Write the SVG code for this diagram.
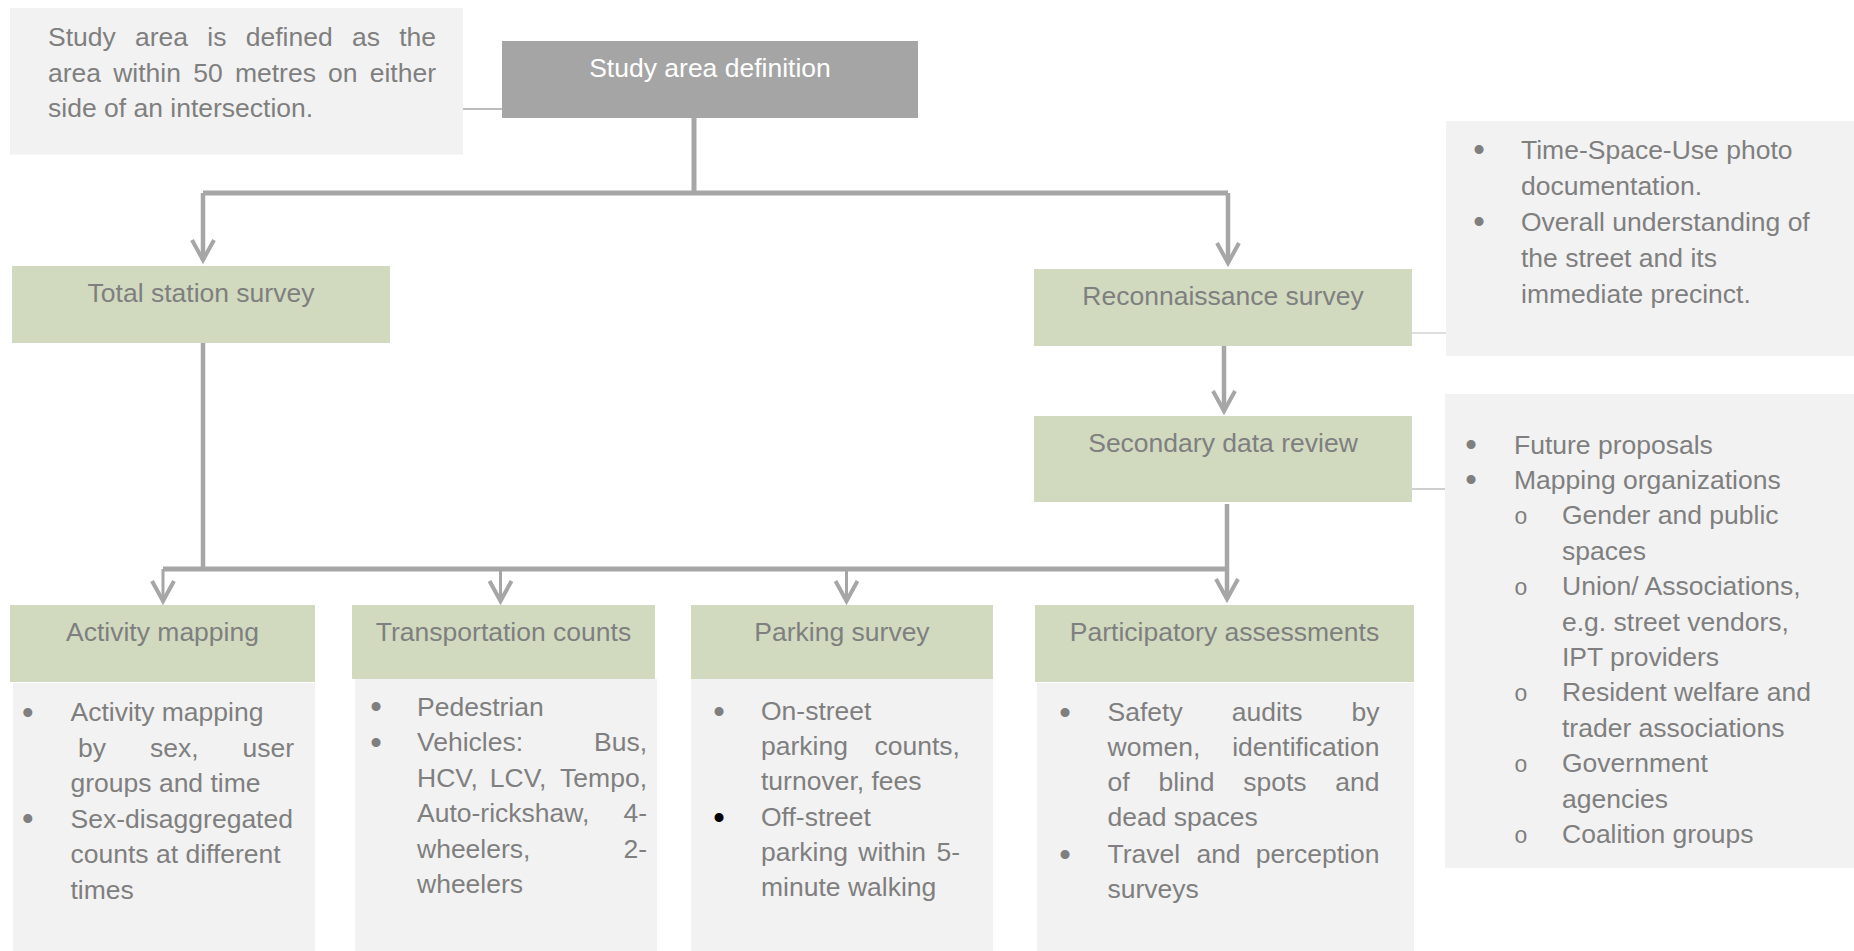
<svg xmlns="http://www.w3.org/2000/svg" width="1854" height="951" viewBox="0 0 1854 951">
<style>
.t{font-family:"Liberation Sans",Arial,sans-serif;font-size:26.5px;fill:#7F7F7F}
.c{text-anchor:middle}
.e{text-anchor:end}
.w{fill:#FFFFFF}
.bl{font-family:"Liberation Sans",Arial,sans-serif;font-size:33px;fill:#7F7F7F;text-anchor:middle}
.blk{fill:#000000}
.o{font-family:"Liberation Mono","Courier New",monospace;font-size:23px;fill:#7F7F7F;text-anchor:middle}
.green{fill:#D1DABF}
.note{fill:#F2F2F2}
.dark{fill:#A5A5A5}
.ln{fill:none;stroke:#A6A6A6}
</style>
<defs>
<marker id="arr" markerUnits="userSpaceOnUse" orient="auto" markerWidth="34" markerHeight="34" viewBox="-28 -17 34 34" refX="0" refY="0" overflow="visible">
<path d="M-20,-11 L0,0 L-20,11" fill="none" stroke="#A6A6A6" stroke-width="4"/>
</marker>
</defs>
<rect width="1854" height="951" fill="#FFFFFF"/>

<g id="connectors">
<path class="ln" d="M694,118 V193" stroke-width="5"/>
<path class="ln" d="M203,193 H1228" stroke-width="5"/>
<path class="ln" d="M203,193 V260" stroke-width="4.5" marker-end="url(#arr)"/>
<path class="ln" d="M1228,193 V263" stroke-width="4.5" marker-end="url(#arr)"/>
<path class="ln" d="M203,343 V569" stroke-width="4.5"/>
<path class="ln" d="M163,569 H1227" stroke-width="5"/>
<path class="ln" d="M163,569 V601" stroke-width="3" marker-end="url(#arr)"/>
<path class="ln" d="M500.5,569 V601" stroke-width="3" marker-end="url(#arr)"/>
<path class="ln" d="M846.5,569 V601" stroke-width="3" marker-end="url(#arr)"/>
<path class="ln" d="M1224,346 V411" stroke-width="4.5" marker-end="url(#arr)"/>
<path class="ln" d="M1227,504 V599" stroke-width="4.5" marker-end="url(#arr)"/>
<path class="ln" d="M463,109 H502" stroke-width="1.3"/>
<path class="ln" d="M1412,333 H1446" stroke-width="1.5" style="stroke:#D3D3D3"/>
<path class="ln" d="M1412,489 H1445" stroke-width="1.3" style="stroke:#BFBFBF"/>
</g>

<g id="note-study-area">
<rect class="note" x="10" y="8" width="453" height="146.5"/>
<text class="t" y="45.5"><tspan x="48">Study</tspan><tspan x="135">area</tspan><tspan x="207.3">is</tspan><tspan x="245.7">defined</tspan><tspan x="351.9">as</tspan></text>
<text class="t e" x="436" y="45.5">the</text>
<text class="t" y="81.5"><tspan x="48">area</tspan><tspan x="113.2">within</tspan><tspan x="193.2">50</tspan><tspan x="234.9">metres</tspan><tspan x="328.1">on</tspan></text>
<text class="t e" x="436" y="81.5">either</text>
<text class="t" x="48" y="116.5">side of an intersection.</text>
</g>

<g id="study-area-definition">
<rect class="dark" x="502" y="41" width="416" height="77"/>
<text class="t c w" x="710" y="76.5">Study area definition</text>
</g>

<g id="total-station-survey">
<rect class="green" x="12" y="266" width="378" height="77"/>
<text class="t c" x="201" y="301.5">Total station survey</text>
</g>

<g id="reconnaissance-survey">
<rect class="green" x="1034" y="269" width="378" height="77"/>
<text class="t c" x="1223" y="304.5">Reconnaissance survey</text>
</g>

<g id="note-reconnaissance">
<rect class="note" x="1446" y="121" width="408" height="235"/>
<text class="bl" x="1479" y="161">•</text>
<text class="t" x="1521" y="158.5">Time-Space-Use photo</text>
<text class="t" x="1521" y="194.5">documentation.</text>
<text class="bl" x="1479" y="233">•</text>
<text class="t" x="1521" y="230.5">Overall understanding of</text>
<text class="t" x="1521" y="266.5">the street and its</text>
<text class="t" x="1521" y="302.5">immediate precinct.</text>
</g>

<g id="secondary-data-review">
<rect class="green" x="1034" y="416" width="378" height="86"/>
<text class="t c" x="1223" y="451.5">Secondary data review</text>
</g>

<g id="note-secondary">
<rect class="note" x="1445" y="394" width="409" height="474"/>
<text class="bl" x="1471" y="456">•</text>
<text class="t" x="1514" y="453.5">Future proposals</text>
<text class="bl" x="1471" y="491.4">•</text>
<text class="t" x="1514" y="488.9">Mapping organizations</text>
<text class="o" x="1521" y="524.3">o</text>
<text class="t" x="1562" y="524.3">Gender and public</text>
<text class="t" x="1562" y="559.7">spaces</text>
<text class="o" x="1521" y="595.1">o</text>
<text class="t" x="1562" y="595.1">Union/ Associations,</text>
<text class="t" x="1562" y="630.5">e.g. street vendors,</text>
<text class="t" x="1562" y="665.9">IPT providers</text>
<text class="o" x="1521" y="701.3">o</text>
<text class="t" x="1562" y="701.3">Resident welfare and</text>
<text class="t" x="1562" y="736.7">trader associations</text>
<text class="o" x="1521" y="772.1">o</text>
<text class="t" x="1562" y="772.1">Government</text>
<text class="t" x="1562" y="807.5">agencies</text>
<text class="o" x="1521" y="842.9">o</text>
<text class="t" x="1562" y="842.9">Coalition groups</text>
</g>

<g id="activity-mapping">
<rect class="green" x="10" y="605" width="305" height="77"/>
<text class="t c" x="162.5" y="641">Activity mapping</text>
<rect class="note" x="13" y="683" width="302" height="268"/>
<text class="bl" x="27.7" y="723.5">•</text>
<text class="t" x="70.5" y="721">Activity mapping</text>
<text class="t" y="756.5"><tspan x="77.9">by</tspan><tspan x="149.9">sex,</tspan></text>
<text class="t e" x="294" y="756.5">user</text>
<text class="t" x="70.5" y="792">groups and time</text>
<text class="bl" x="27.7" y="830">•</text>
<text class="t" x="70.5" y="827.5">Sex-disaggregated</text>
<text class="t" x="70.5" y="863">counts at different</text>
<text class="t" x="70.5" y="898.5">times</text>
</g>

<g id="transportation-counts">
<rect class="green" x="352" y="605" width="303" height="74"/>
<text class="t c" x="503.5" y="640.5">Transportation counts</text>
<rect class="note" x="355" y="679" width="302" height="272"/>
<text class="bl" x="376" y="718">•</text>
<text class="t" x="417" y="715.5">Pedestrian</text>
<text class="bl" x="376" y="753.5">•</text>
<text class="t" x="417" y="751">Vehicles:</text>
<text class="t e" x="647" y="751">Bus,</text>
<text class="t" y="786.5"><tspan x="417">HCV,</tspan><tspan x="489.8">LCV,</tspan></text>
<text class="t e" x="647" y="786.5">Tempo,</text>
<text class="t" x="417" y="822">Auto-rickshaw,</text>
<text class="t e" x="647" y="822">4-</text>
<text class="t" x="417" y="857.5">wheelers,</text>
<text class="t e" x="647" y="857.5">2-</text>
<text class="t" x="417" y="893">wheelers</text>
</g>

<g id="parking-survey">
<rect class="green" x="691" y="605" width="302" height="74"/>
<text class="t c" x="842" y="641">Parking survey</text>
<rect class="note" x="691" y="679" width="302" height="272"/>
<text class="bl" x="719" y="722.5">•</text>
<text class="t" x="761" y="720">On-street</text>
<text class="t" x="761" y="755">parking</text>
<text class="t e" x="960" y="755">counts,</text>
<text class="t" x="761" y="790">turnover, fees</text>
<text class="bl blk" x="719" y="828.5">•</text>
<text class="t" x="761" y="826">Off-street</text>
<text class="t" y="861"><tspan x="761">parking</tspan><tspan x="858.3">within</tspan></text>
<text class="t e" x="960" y="861">5-</text>
<text class="t" x="761" y="896">minute walking</text>
</g>

<g id="participatory-assessments">
<rect class="green" x="1035" y="605" width="379" height="77"/>
<text class="t c" x="1224.5" y="641">Participatory assessments</text>
<rect class="note" x="1037" y="683" width="377" height="268"/>
<text class="bl" x="1065" y="723.5">•</text>
<text class="t" y="721"><tspan x="1107.5">Safety</tspan><tspan x="1231.7">audits</tspan></text>
<text class="t e" x="1379.5" y="721">by</text>
<text class="t" x="1107.5" y="756">women,</text>
<text class="t e" x="1379.5" y="756">identification</text>
<text class="t" y="791"><tspan x="1107.5">of</tspan><tspan x="1158.4">blind</tspan><tspan x="1243.2">spots</tspan></text>
<text class="t e" x="1379.5" y="791">and</text>
<text class="t" x="1107.5" y="826">dead spaces</text>
<text class="bl" x="1065" y="865.5">•</text>
<text class="t" y="863"><tspan x="1107.5">Travel</tspan><tspan x="1196.4">and</tspan></text>
<text class="t e" x="1379.5" y="863">perception</text>
<text class="t" x="1107.5" y="898">surveys</text>
</g>
</svg>
